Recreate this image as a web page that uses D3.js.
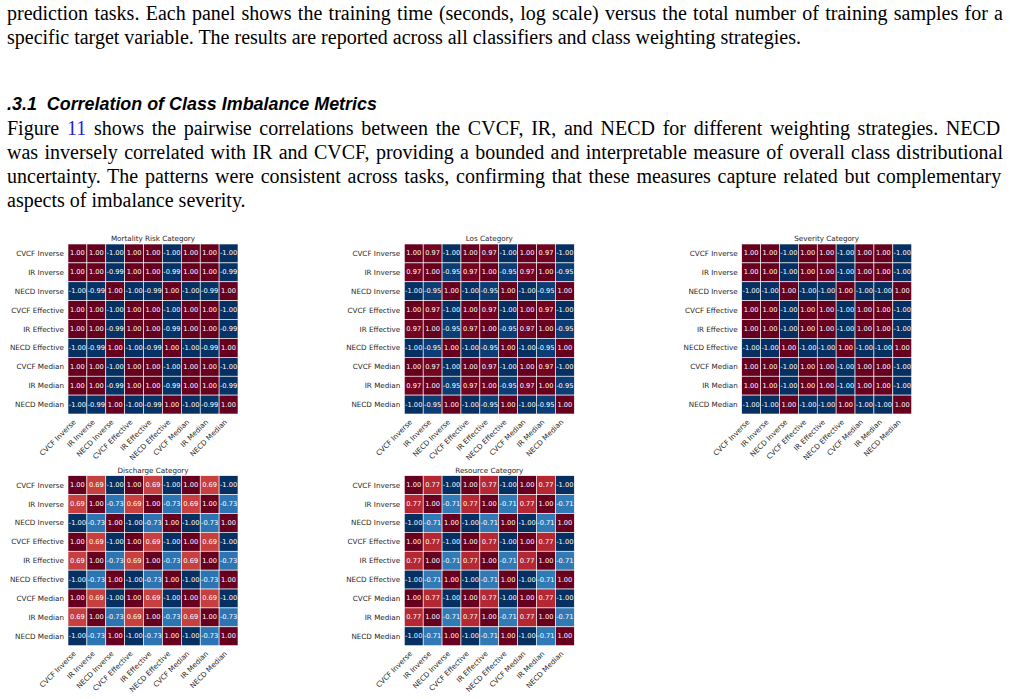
<!DOCTYPE html>
<html>
<head>
  <meta charset="utf-8">
  <title>Correlation of Class Imbalance Metrics</title>
  <script src="https://d3js.org/d3.v7.min.js"></script>
  <style>
    body { margin: 0; background: #fff; }
    .body-text { font-family: "Liberation Serif", "Times New Roman", serif; font-size: 20px; fill: #000; }
    .heading { font-family: "Liberation Sans", Arial, sans-serif; font-size: 17.9px; font-weight: bold; font-style: italic; fill: #000; }
    .hm-title { font-family: "DejaVu Sans", sans-serif; font-size: 7.2px; fill: #262626; }
    .hm-tick { font-family: "DejaVu Sans", sans-serif; font-size: 7.2px; fill: #262626; }
    .hm-annot { font-family: "DejaVu Sans", sans-serif; font-size: 6.7px; fill: #fff; }
  </style>
</head>
<body>
  <svg id="page" width="1010" height="699"></svg>
  <script>
    // text of the page
    const introLines = [
      "prediction tasks. Each panel shows the training time (seconds, log scale) versus the total number of training samples for a",
      "specific target variable. The results are reported across all classifiers and class weighting strategies."
    ];
    const sectionTitle = ".3.1  Correlation of Class Imbalance Metrics";
    const paraLines = [
      ["Figure ", "11", " shows the pairwise correlations between the CVCF, IR, and NECD for different weighting strategies.  NECD"],
      ["was inversely correlated with IR and CVCF, providing a bounded and interpretable measure of overall class distributional"],
      ["uncertainty.  The patterns were consistent across tasks, confirming that these measures capture related but complementary"],
      ["aspects of imbalance severity."]
    ];

    // heatmap data
    const metricLabels = ["CVCF Inverse", "IR Inverse", "NECD Inverse",
                          "CVCF Effective", "IR Effective", "NECD Effective",
                          "CVCF Median", "IR Median", "NECD Median"];
    const panelTitles = ["Mortality Risk Category", "Los Category", "Severity Category",
                         "Discharge Category", "Resource Category"];

    const mortalityCorr = [
      [ 1.00,  1.00, -1.00,  1.00,  1.00, -1.00,  1.00,  1.00, -1.00],
      [ 1.00,  1.00, -0.99,  1.00,  1.00, -0.99,  1.00,  1.00, -0.99],
      [-1.00, -0.99,  1.00, -1.00, -0.99,  1.00, -1.00, -0.99,  1.00],
      [ 1.00,  1.00, -1.00,  1.00,  1.00, -1.00,  1.00,  1.00, -1.00],
      [ 1.00,  1.00, -0.99,  1.00,  1.00, -0.99,  1.00,  1.00, -0.99],
      [-1.00, -0.99,  1.00, -1.00, -0.99,  1.00, -1.00, -0.99,  1.00],
      [ 1.00,  1.00, -1.00,  1.00,  1.00, -1.00,  1.00,  1.00, -1.00],
      [ 1.00,  1.00, -0.99,  1.00,  1.00, -0.99,  1.00,  1.00, -0.99],
      [-1.00, -0.99,  1.00, -1.00, -0.99,  1.00, -1.00, -0.99,  1.00]
    ];
    const losCorr = [
      [ 1.00,  0.97, -1.00,  1.00,  0.97, -1.00,  1.00,  0.97, -1.00],
      [ 0.97,  1.00, -0.95,  0.97,  1.00, -0.95,  0.97,  1.00, -0.95],
      [-1.00, -0.95,  1.00, -1.00, -0.95,  1.00, -1.00, -0.95,  1.00],
      [ 1.00,  0.97, -1.00,  1.00,  0.97, -1.00,  1.00,  0.97, -1.00],
      [ 0.97,  1.00, -0.95,  0.97,  1.00, -0.95,  0.97,  1.00, -0.95],
      [-1.00, -0.95,  1.00, -1.00, -0.95,  1.00, -1.00, -0.95,  1.00],
      [ 1.00,  0.97, -1.00,  1.00,  0.97, -1.00,  1.00,  0.97, -1.00],
      [ 0.97,  1.00, -0.95,  0.97,  1.00, -0.95,  0.97,  1.00, -0.95],
      [-1.00, -0.95,  1.00, -1.00, -0.95,  1.00, -1.00, -0.95,  1.00]
    ];
    const severityCorr = [
      [ 1.00,  1.00, -1.00,  1.00,  1.00, -1.00,  1.00,  1.00, -1.00],
      [ 1.00,  1.00, -1.00,  1.00,  1.00, -1.00,  1.00,  1.00, -1.00],
      [-1.00, -1.00,  1.00, -1.00, -1.00,  1.00, -1.00, -1.00,  1.00],
      [ 1.00,  1.00, -1.00,  1.00,  1.00, -1.00,  1.00,  1.00, -1.00],
      [ 1.00,  1.00, -1.00,  1.00,  1.00, -1.00,  1.00,  1.00, -1.00],
      [-1.00, -1.00,  1.00, -1.00, -1.00,  1.00, -1.00, -1.00,  1.00],
      [ 1.00,  1.00, -1.00,  1.00,  1.00, -1.00,  1.00,  1.00, -1.00],
      [ 1.00,  1.00, -1.00,  1.00,  1.00, -1.00,  1.00,  1.00, -1.00],
      [-1.00, -1.00,  1.00, -1.00, -1.00,  1.00, -1.00, -1.00,  1.00]
    ];
    const dischargeCorr = [
      [ 1.00,  0.69, -1.00,  1.00,  0.69, -1.00,  1.00,  0.69, -1.00],
      [ 0.69,  1.00, -0.73,  0.69,  1.00, -0.73,  0.69,  1.00, -0.73],
      [-1.00, -0.73,  1.00, -1.00, -0.73,  1.00, -1.00, -0.73,  1.00],
      [ 1.00,  0.69, -1.00,  1.00,  0.69, -1.00,  1.00,  0.69, -1.00],
      [ 0.69,  1.00, -0.73,  0.69,  1.00, -0.73,  0.69,  1.00, -0.73],
      [-1.00, -0.73,  1.00, -1.00, -0.73,  1.00, -1.00, -0.73,  1.00],
      [ 1.00,  0.69, -1.00,  1.00,  0.69, -1.00,  1.00,  0.69, -1.00],
      [ 0.69,  1.00, -0.73,  0.69,  1.00, -0.73,  0.69,  1.00, -0.73],
      [-1.00, -0.73,  1.00, -1.00, -0.73,  1.00, -1.00, -0.73,  1.00]
    ];
    const resourceCorr = [
      [ 1.00,  0.77, -1.00,  1.00,  0.77, -1.00,  1.00,  0.77, -1.00],
      [ 0.77,  1.00, -0.71,  0.77,  1.00, -0.71,  0.77,  1.00, -0.71],
      [-1.00, -0.71,  1.00, -1.00, -0.71,  1.00, -1.00, -0.71,  1.00],
      [ 1.00,  0.77, -1.00,  1.00,  0.77, -1.00,  1.00,  0.77, -1.00],
      [ 0.77,  1.00, -0.71,  0.77,  1.00, -0.71,  0.77,  1.00, -0.71],
      [-1.00, -0.71,  1.00, -1.00, -0.71,  1.00, -1.00, -0.71,  1.00],
      [ 1.00,  0.77, -1.00,  1.00,  0.77, -1.00,  1.00,  0.77, -1.00],
      [ 0.77,  1.00, -0.71,  0.77,  1.00, -0.71,  0.77,  1.00, -0.71],
      [-1.00, -0.71,  1.00, -1.00, -0.71,  1.00, -1.00, -0.71,  1.00]
    ];
    const panelMatrices = [mortalityCorr, losCorr, severityCorr, dischargeCorr, resourceCorr];

    // layout
    const textLeft = 7, textWidth = 996;
    const gridSize = 170;
    const panelOrigins = [[68, 244], [404.3, 244], [741.7, 244], [68, 475.7], [404.3, 475.7]];

    const svg = d3.select("#page");

    // stretch word spaces so the line fills the text width
    function justify(sel) {
      sel.each(function() {
        const nSpaces = (this.textContent.match(/ /g) || []).length;
        const w = this.getComputedTextLength();
        if (nSpaces > 0) d3.select(this).style("word-spacing", ((textWidth - w) / nSpaces) + "px");
      });
    }

    // intro lines
    const intro = svg.selectAll("text.intro")
      .data(introLines)
      .enter().append("text")
      .attr("class", "body-text intro")
      .attr("x", textLeft)
      .attr("y", (d, i) => 19.5 + i * 24.5)
      .text(d => d);
    justify(intro.filter((d, i) => i < introLines.length - 1));

    svg.append("text")
      .attr("class", "heading")
      .attr("x", textLeft)
      .attr("y", 110)
      .attr("xml:space", "preserve")
      .text(sectionTitle);

    const para = svg.selectAll("text.para")
      .data(paraLines)
      .enter().append("text")
      .attr("class", "body-text para")
      .attr("x", textLeft)
      .attr("y", (d, i) => 134.5 + i * 24.2);
    para.selectAll("tspan")
      .data(d => d)
      .enter().append("tspan")
      .attr("fill", (d, i) => d === "11" ? "#1f1fd6" : "#000")
      .text(d => d);
    justify(para.filter((d, i) => i < paraLines.length - 1));

    // heatmaps
    const color = v => d3.interpolateRdBu((1 - v) / 2);

    panelMatrices.forEach((matrix, p) => {
      const [gx, gy] = panelOrigins[p];
      const x = d3.scaleBand().domain(metricLabels).range([gx, gx + gridSize]);
      const y = d3.scaleBand().domain(metricLabels).range([gy, gy + gridSize]);
      const g = svg.append("g");

      const cells = [];
      matrix.forEach((row, i) => row.forEach((v, j) => cells.push({ r: metricLabels[i], c: metricLabels[j], v: v })));

      g.selectAll("rect")
        .data(cells)
        .enter().append("rect")
        .attr("x", d => x(d.c))
        .attr("y", d => y(d.r))
        .attr("width", x.bandwidth())
        .attr("height", y.bandwidth())
        .attr("fill", d => color(d.v))
        .attr("stroke", "#fff")
        .attr("stroke-width", 0.6);

      g.selectAll("text.hm-annot")
        .data(cells)
        .enter().append("text")
        .attr("class", "hm-annot")
        .attr("x", d => x(d.c) + x.bandwidth() / 2)
        .attr("y", d => y(d.r) + y.bandwidth() / 2)
        .attr("text-anchor", "middle")
        .attr("dominant-baseline", "central")
        .text(d => d.v.toFixed(2));

      // row labels
      g.selectAll("text.ylab")
        .data(metricLabels)
        .enter().append("text")
        .attr("class", "hm-tick ylab")
        .attr("x", gx - 4)
        .attr("y", d => y(d) + y.bandwidth() / 2)
        .attr("text-anchor", "end")
        .attr("dominant-baseline", "central")
        .text(d => d);

      // column labels, rotated
      g.selectAll("text.xlab")
        .data(metricLabels)
        .enter().append("text")
        .attr("class", "hm-tick xlab")
        .attr("text-anchor", "end")
        .attr("transform", d => `translate(${x(d) + x.bandwidth() / 2 - 1},${gy + gridSize + 8.5}) rotate(-45)`)
        .text(d => d);

      g.append("text")
        .attr("class", "hm-title")
        .attr("x", gx + gridSize / 2)
        .attr("y", gy - 3)
        .attr("text-anchor", "middle")
        .text(panelTitles[p]);
    });
  </script>
</body>
</html>
